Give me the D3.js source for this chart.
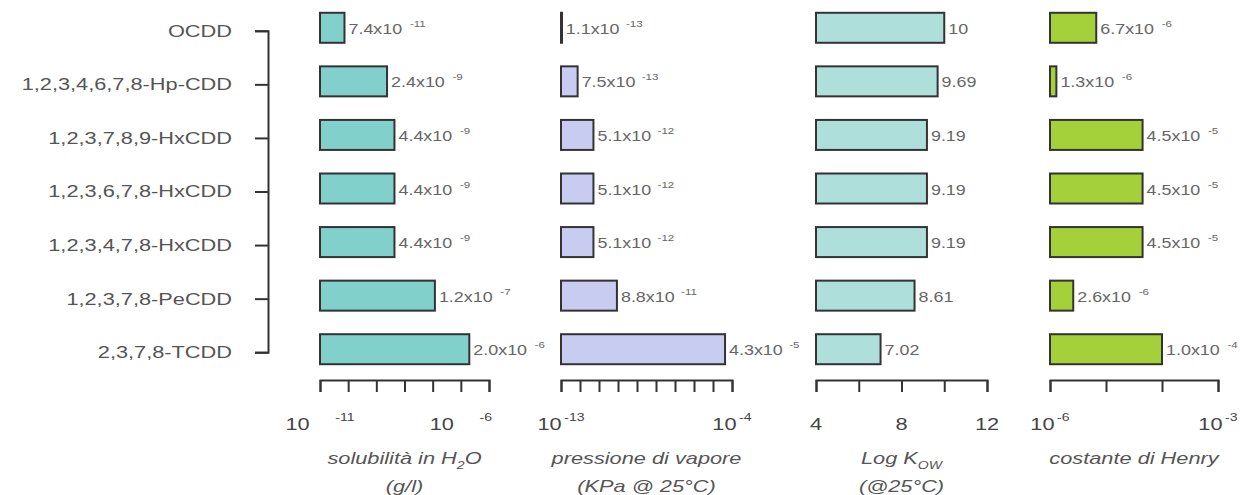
<!DOCTYPE html>
<html>
<head>
<meta charset="utf-8">
<script src="https://cdn.jsdelivr.net/npm/d3@7"></script>
<style>
body { margin: 0; background: #fff; }
text { font-family: "Liberation Sans", Arial, sans-serif; }
</style>
</head>
<body>
<div id="chart"></div>
<script>
var categories = ["OCDD", "1,2,3,4,6,7,8-Hp-CDD", "1,2,3,7,8,9-HxCDD", "1,2,3,6,7,8-HxCDD",
	"1,2,3,4,7,8-HxCDD", "1,2,3,7,8-PeCDD", "2,3,7,8-TCDD"];

// solubilita in H2O (g/l)
var solMant = [7.4, 2.4, 4.4, 4.4, 4.4, 1.2, 2.0];
var solExp = [-11, -9, -9, -9, -9, -7, -6];
// pressione di vapore (KPa)
var vapMant = [1.1, 7.5, 5.1, 5.1, 5.1, 8.8, 4.3];
var vapExp = [-13, -13, -12, -12, -12, -11, -5];
// Log Kow
var logKow = [10, 9.69, 9.19, 9.19, 9.19, 8.61, 7.02];
var kowLabels = ["10", "9.69", "9.19", "9.19", "9.19", "8.61", "7.02"];
// costante di Henry
var henMant = [6.7, 1.3, 4.5, 4.5, 4.5, 2.6, 1.0];
var henExp = [-6, -6, -5, -5, -5, -6, -4];

var solTicks = [1e-11, 1e-10, 1e-9, 1e-8, 1e-7, 1e-6, 1e-5];
var vapTicks = [1e-13, 1e-12, 1e-11, 1e-10, 1e-9, 1e-8, 1e-7, 1e-6, 1e-5, 1e-4];
var kowTicks = [4, 6, 8, 10, 12];
var henTicks = [1e-6, 1e-5, 1e-4, 1e-3];

var solTickVals = [1e-11, 1e-6], solTickExp = ["-11", "-6"];
var vapTickVals = [1e-13, 1e-4], vapTickExp = ["-13", "-4"];
var kowTickVals = [4, 8, 12];
var henTickVals = [1e-6, 1e-3], henTickExp = ["-6", "-3"];

var W = 1247, H = 495, SX = 1.28;
var axisY = 380;

var svg = d3.select('#chart').append('svg')
	.attr('width', W)
	.attr('height', H)
	.style('background-color', 'white');

var y = d3.scaleBand().domain(categories).range([1, 376]).paddingInner(0.44).paddingOuter(0.22);

// text is stretched sideways like in the original figure
function stext(g, x, yy) {
	return g.append("text").attr("transform", "translate(" + x + "," + yy + ") scale(" + SX + ",1)");
}

function expo(m, e) { return m.map(function(d, i) { return d * Math.pow(10, e[i]); }); }
function mantLabel(m) { return m.map(function(d) { return d3.format(".1f")(d) + "x10"; }); }

// left bracket axis
var yPt = d3.scalePoint().domain(categories)
	.range([y(categories[0]) + y.bandwidth() / 2 + 3, y(categories[categories.length - 1]) + y.bandwidth() / 2 + 3]);
var gl = svg.append("g").attr("transform", "translate(268,0)")
	.call(d3.axisLeft(yPt).tickSize(13).tickSizeOuter(13).tickFormat(""));
gl.selectAll("path, line").attr("stroke", "#333").attr("stroke-width", 2);
categories.forEach(function(c) {
	stext(gl, -36, yPt(c)).attr("dy", "0.35em").attr("text-anchor", "end")
		.attr("font-size", 17).attr("fill", "#555").text(c);
});

var panels = [
	{ x: d3.scaleLog().domain([1e-11, 1e-5]).range([320, 489]), values: expo(solMant, solExp),
	  labels: mantLabel(solMant), exps: solExp, expGap: 6, color: "#82d0cc",
	  ticks: solTicks, tickVals: solTickVals, tickExp: solTickExp, tickGap: 20,
	  cap1: [["solubilità in H"], ["2", "sub"], ["O"]], cap2: "(g/l)" },
	{ x: d3.scaleLog().domain([1e-13, 1e-4]).range([561, 732]), values: expo(vapMant, vapExp),
	  labels: mantLabel(vapMant), exps: vapExp, expGap: 5, color: "#c8ccf0",
	  ticks: vapTicks, tickVals: vapTickVals, tickExp: vapTickExp, tickGap: 2,
	  cap1: [["pressione di vapore"]], cap2: "(KPa @ 25°C)" },
	{ x: d3.scaleLinear().domain([4, 12]).range([816, 987]), values: logKow,
	  labels: kowLabels, exps: null, color: "#afdfdb",
	  ticks: kowTicks, tickVals: kowTickVals, tickExp: null,
	  cap1: [["Log K"], ["OW", "sub"]], cap2: "(@25°C)" },
	{ x: d3.scaleLog().domain([1e-6, 1e-3]).range([1050, 1218]), values: expo(henMant, henExp),
	  labels: mantLabel(henMant), exps: henExp, expGap: 6, color: "#a4d03a",
	  ticks: henTicks, tickVals: henTickVals, tickExp: henTickExp, tickGap: 2,
	  cap1: [["costante di Henry"]], cap2: null }
];

function drawPanel(p) {
	var g = svg.append("g");
	var x0 = p.x.range()[0];

	g.selectAll("rect").data(p.values)
		.enter().append("rect")
		.attr("x", x0)
		.attr("y", function(d, i) { return y(categories[i]); })
		.attr("width", function(d) { return Math.max(p.x(d) - x0, 1); })
		.attr("height", y.bandwidth())
		.style("fill", p.color)
		.attr("stroke", "#333")
		.attr("stroke-width", 2);

	// value labels
	p.values.forEach(function(d, i) {
		var t = stext(g, p.x(d) + 4, y(categories[i]) + y.bandwidth() / 2 + 6)
			.attr("font-size", 14).attr("fill", "#666").text(p.labels[i]);
		if (p.exps) {
			t.append("tspan").attr("dx", p.expGap).attr("dy", -7)
				.attr("font-size", 9).text(p.exps[i]);
		}
	});

	// axis
	var ga = g.append("g").attr("transform", "translate(0," + axisY + ")")
		.call(d3.axisBottom(p.x).tickValues(p.ticks).tickSize(12).tickSizeOuter(12).tickFormat(""));
	ga.selectAll("path, line").attr("stroke", "#333").attr("stroke-width", 2);

	// tick labels
	p.tickVals.forEach(function(v, i) {
		var t = stext(g, p.x(v), 430).attr("text-anchor", "middle")
			.attr("font-size", 17).attr("fill", "#444");
		if (p.tickExp) {
			t.text("10");
			t.append("tspan").attr("dx", p.tickGap).attr("dy", -9).attr("font-size", 11).text(p.tickExp[i]);
		} else {
			t.text(v);
		}
	});

	// captions
	var mid = (p.x.range()[0] + p.x.range()[1]) / 2;
	var c1 = stext(g, mid, 464).attr("text-anchor", "middle").attr("font-size", 17)
		.attr("font-style", "italic").attr("fill", "#555");
	p.cap1.forEach(function(part) {
		var s = c1.append("tspan").text(part[0]);
		if (part[1] == "sub") s.attr("font-size", 11).attr("dy", 5);
		else if (c1.selectAll("tspan").size() > 1) s.attr("dy", -5);
	});
	if (p.cap2) {
		stext(g, mid, 492).attr("text-anchor", "middle").attr("font-size", 17)
			.attr("font-style", "italic").attr("fill", "#555").text(p.cap2);
	}
}

panels.forEach(drawPanel);
</script>
</body>
</html>
